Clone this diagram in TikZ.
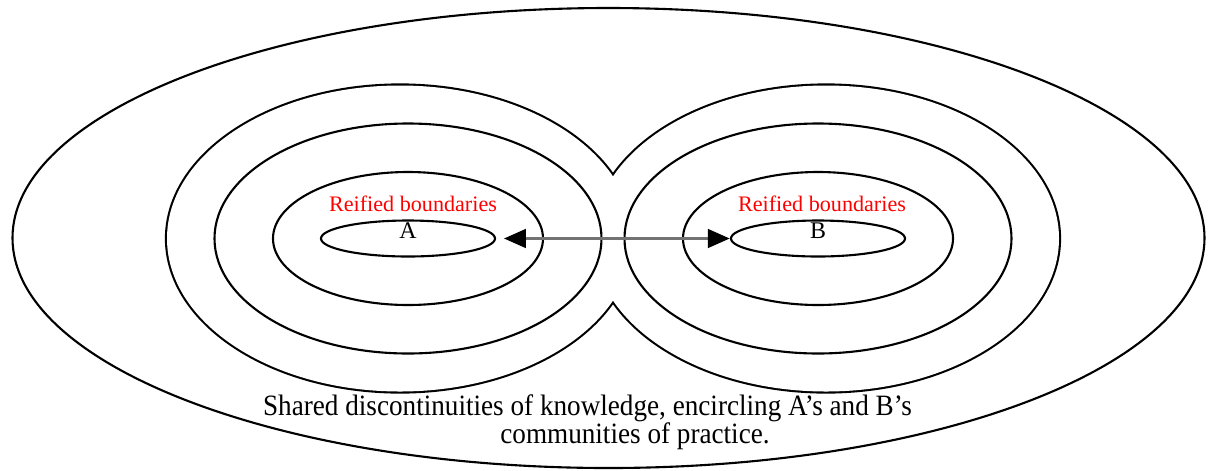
\documentclass[tikz,border=0pt]{standalone}
\usepackage{fontspec}
\setmainfont{Liberation Serif}
\usetikzlibrary{arrows.meta,shapes.geometric}

\tikzset{
  ring/.style={line width=.6pt},
  core/.style={ellipse,draw,line width=.6pt,minimum width=1.74cm,minimum height=.36cm,
    inner sep=0pt,text height=3pt,text depth=3pt,font=\fontsize{6.8}{8}\selectfont},
  reified/.style={text=red,font=\fontsize{6.3}{7}\selectfont},
  caption/.style={anchor=base,font=\fontsize{8.4}{10}\selectfont,xscale=.92},
  tip/.tip={Triangle[length=6.3pt,width=5.2pt,black]},
}

\begin{document}
\begin{tikzpicture}
  \useasboundingbox (0,0) rectangle (12.12,-4.70);
  \coordinate (CA) at (4.08,-2.385);
  \coordinate (CB) at (8.18,-2.385);

  % Outer boundary around both communities.
  \draw[ring] (6.085,-2.38) ellipse[x radius=5.96,y radius=2.30];

  % Outermost rings of A and B, merged into one outline.
  \draw[line width=1.2pt] (4.00,-2.385) ellipse[x radius=2.33,y radius=1.53];
  \draw[line width=1.2pt] (8.26,-2.385) ellipse[x radius=2.33,y radius=1.53];
  \fill[white] (4.00,-2.385) ellipse[x radius=2.33,y radius=1.53];
  \fill[white] (8.26,-2.385) ellipse[x radius=2.33,y radius=1.53];

  % Inner rings.
  \foreach \c in {CA,CB} {
    \draw[ring] (\c) ellipse[x radius=1.935,y radius=1.15];
    \draw[ring] (\c) ellipse[x radius=1.35,y radius=.665];
  }

  % The two communities.
  \node[core] (A) at (CA) {A};
  \node[core] (B) at (CB) {B};
  \node[reified] (rA) at (4.13,-2.04) {Reified boundaries};
  \node[reified] (rB) at (8.22,-2.04) {Reified boundaries};

  \draw[tip-tip,line width=1.1pt,black!55,shorten <=2.2pt] (A) -- (B);

  \node[caption] (cap1) at (5.875,-4.15) {Shared discontinuities of knowledge, encircling A’s and B’s};
  \node[caption] (cap2) at (6.35,-4.43) {communities of practice.};
\end{tikzpicture}
\end{document}
